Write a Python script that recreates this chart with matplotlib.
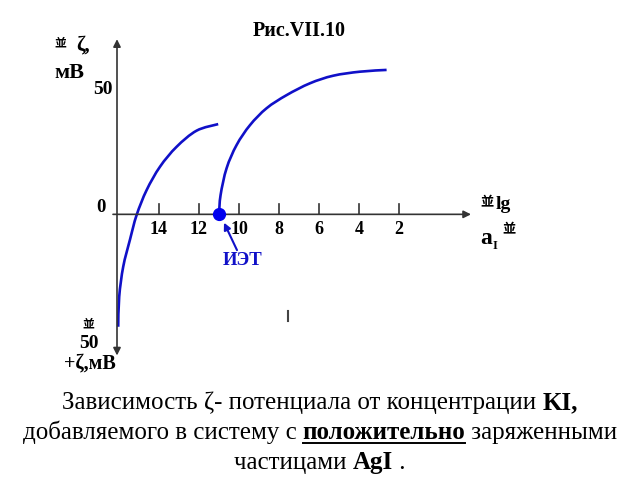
import matplotlib
matplotlib.use('Agg')
import matplotlib.pyplot as plt
from matplotlib.lines import Line2D
from matplotlib.path import Path
from matplotlib.patches import PathPatch

plt.rcParams['font.family'] = ['Liberation Serif', 'Noto Sans CJK SC', 'DejaVu Sans']

# ── data ────────────────────────────────────────────────────────────────────
lg_left   = [16.04, 15.99, 15.79, 15.45, 15.12, 14.62, 13.95, 13.12, 12.12, 11.04]
zeta_left = [-44.6, -32.7, -20.8, -10.0, -0.3, 9.6, 18.9, 26.8, 33.2, 35.8]

lg_right   = [11.0, 10.92, 10.62, 10.12, 9.45, 8.62, 7.62, 6.45, 5.29, 3.95, 2.62]
zeta_right = [0.0, 7.7, 18.3, 27.5, 35.4, 42.1, 47.3, 52.0, 55.0, 56.6, 57.3]

iet = (11.0, 0.0)
tick_vals = [14, 12, 10, 8, 6, 4, 2]

W, H = 640, 480
BLUE = '#1010c8'
MARK = '並'

fig = plt.figure(figsize=(6.4, 4.8), dpi=100)
ax = fig.add_axes([0, 0, 1, 1])
ax.set_xlim(21.95, -10.05)
ax.set_ylim(-105.4, 85.04)
ax.axis('off')


def smooth_curve(ax, xs, ys, **kw):
    # draw a smooth line through the read points (Catmull-Rom -> cubic Bezier)
    pts = [ax.transData.transform((x, y)) for x, y in zip(xs, ys)]
    verts = [pts[0]]
    codes = [Path.MOVETO]
    n = len(pts)
    for i in range(n - 1):
        p0 = pts[max(i - 1, 0)]
        p1 = pts[i]
        p2 = pts[i + 1]
        p3 = pts[min(i + 2, n - 1)]
        c1 = p1 + (p2 - p0) / 6.0
        c2 = p2 - (p3 - p1) / 6.0
        verts += [c1, c2, p2]
        codes += [Path.CURVE4] * 3
    inv = ax.transData.inverted()
    verts = [inv.transform(v) for v in verts]
    ax.add_patch(PathPatch(Path(verts, codes), fill=False, **kw))


# axes with arrows
ax.annotate('', xy=(-1.6, 0), xytext=(16.3, 0),
            arrowprops=dict(arrowstyle='-|>', color='#333333', lw=1.2,
                            mutation_scale=11, shrinkA=0, shrinkB=0))
ax.annotate('', xy=(16.1, 69.5), xytext=(16.1, -56.0),
            arrowprops=dict(arrowstyle='<|-|>', color='#333333', lw=1.2,
                            mutation_scale=11, shrinkA=0, shrinkB=0))

for v in tick_vals:
    ax.plot([v, v], [0, 4.2], color='#333333', lw=1.2)
    ax.text(v, -6.0, str(v), ha='center', va='center',
            fontsize=13, fontweight='bold')

# curves
smooth_curve(ax, lg_left, zeta_left, edgecolor=BLUE, lw=1.9)
smooth_curve(ax, lg_right, zeta_right, edgecolor=BLUE, lw=1.9)
ax.plot(*iet, 'o', color='#0000ee', ms=8.5, zorder=5)

# ИЭТ label with arrow
ax.annotate('', xy=(10.75, -3.3), xytext=(10.1, -14.2),
            arrowprops=dict(arrowstyle='-|>', color=BLUE, lw=1.5,
                            mutation_scale=10, shrinkA=0, shrinkB=0))
ax.text(9.8, -18.3, 'ИЭТ', color=BLUE, fontsize=13.5, fontweight='bold',
        ha='center', va='center')

# stray mark
ax.plot([7.55, 7.55], [-38.4, -42.3], color='#444444', lw=1.5)


def ftext(x, y, s, **kw):
    kw.setdefault('fontweight', 'bold')
    return fig.text(x / W, 1 - y / H, s, **kw)


ftext(299, 31, 'Рис.VII.10', ha='center', va='center', fontsize=14.5)
ftext(54, 44, MARK, ha='left', va='center', fontsize=8.5)
ftext(76, 45, 'ζ,', ha='left', va='center', fontsize=15)
ftext(54, 73, 'мВ', ha='left', va='center', fontsize=16)
ftext(113, 89, '50', ha='right', va='center', fontsize=14)
ftext(106, 208, '0', ha='right', va='center', fontsize=13.5)

ftext(480, 203, MARK, ha='left', va='center', fontsize=9.5)
ftext(496, 205, 'lg', ha='left', va='center', fontsize=14)
ftext(480, 238, 'a', ha='left', va='center', fontsize=17)
ftext(493, 246, 'I', ha='left', va='center', fontsize=9)
ftext(502, 230, MARK, ha='left', va='center', fontsize=9.5)

ftext(88, 325, MARK, ha='center', va='center', fontsize=8.5)
ftext(89, 344, '50', ha='center', va='center', fontsize=14)
ftext(64, 363, '+ζ,мВ', ha='left', va='center', fontsize=14.5)


# caption with mixed formatting
renderer = fig.canvas.get_renderer()


def caption_line(y, parts, size=18):
    arts = []
    total = 0
    for s, bold, under in parts:
        t = fig.text(0, 1 - y / H, s, fontsize=size, va='baseline',
                     fontweight='bold' if bold else 'normal')
        w = t.get_window_extent(renderer).width
        arts.append((t, w, under))
        total += w
    x = (W - total) / 2
    for t, w, under in arts:
        t.set_x(x / W)
        if under:
            fig.add_artist(Line2D([x / W, (x + w) / W],
                                  [1 - (y + 3.5) / H] * 2,
                                  color='black', lw=1.4))
        x += w


caption_line(409, [('Зависимость ζ- потенциала от концентрации ', False, False),
                   ('KI,', True, False)])
caption_line(439, [('добавляемого в систему с ', False, False),
                   ('положительно', True, True),
                   (' заряженными', False, False)])
caption_line(469, [('частицами ', False, False), ('AgI', True, False),
                   (' .', False, False)])

fig.savefig('out.png', dpi=100)
